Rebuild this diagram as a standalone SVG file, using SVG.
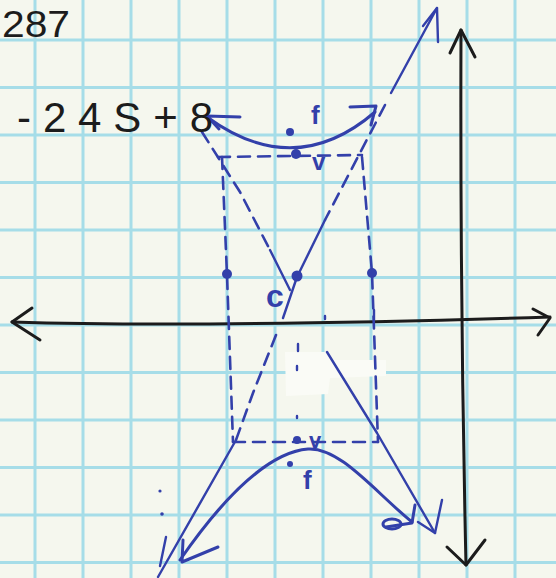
<svg xmlns="http://www.w3.org/2000/svg" width="556" height="578" viewBox="0 0 556 578">
  <style>
    .grid line { stroke: #a6dde8; stroke-width: 3; }
    .ink { fill: none; stroke: #3340aa; stroke-width: 3; stroke-linecap: round; stroke-linejoin: round; }
    .thin { fill: none; stroke: #3340aa; stroke-width: 2.4; stroke-linecap: round; stroke-linejoin: round; }
    .dash { fill: none; stroke: #3340aa; stroke-width: 2.6; stroke-dasharray: 12 8; stroke-linecap: round; }
    .axis { fill: none; stroke: #1c1c1c; stroke-width: 3; stroke-linecap: round; stroke-linejoin: round; }
    .dot { fill: #3340aa; }
    .lbl { font-family: "Liberation Sans", Arial, sans-serif; fill: #3340aa; }
    .hand { font-family: "Liberation Sans", Arial, sans-serif; fill: #1c1c1c; }
  </style>
  <rect x="0" y="0" width="556" height="578" fill="#f5f7ee"/>
  <g id="grid" class="grid">
    <line x1="35" y1="0" x2="35" y2="578"/>
    <line x1="83" y1="0" x2="83" y2="578"/>
    <line x1="131" y1="0" x2="131" y2="578"/>
    <line x1="179" y1="0" x2="179" y2="578"/>
    <line x1="227" y1="0" x2="227" y2="578"/>
    <line x1="275" y1="0" x2="275" y2="578"/>
    <line x1="323" y1="0" x2="323" y2="578"/>
    <line x1="371" y1="0" x2="371" y2="578"/>
    <line x1="419" y1="0" x2="419" y2="578"/>
    <line x1="467" y1="0" x2="467" y2="578"/>
    <line x1="515" y1="0" x2="515" y2="578"/>
    <line x1="0" y1="40" x2="556" y2="40"/>
    <line x1="0" y1="87.5" x2="556" y2="87.5"/>
    <line x1="0" y1="135" x2="556" y2="135"/>
    <line x1="0" y1="182.5" x2="556" y2="182.5"/>
    <line x1="0" y1="230" x2="556" y2="230"/>
    <line x1="0" y1="277.5" x2="556" y2="277.5"/>
    <line x1="0" y1="325" x2="556" y2="325"/>
    <line x1="0" y1="372.5" x2="556" y2="372.5"/>
    <line x1="0" y1="420" x2="556" y2="420"/>
    <line x1="0" y1="467.5" x2="556" y2="467.5"/>
    <line x1="0" y1="515" x2="556" y2="515"/>
    <line x1="0" y1="562.5" x2="556" y2="562.5"/>
  </g>
  <path id="whiteout" d="M285,352 L330,352 L330,360 L386,360 L386,376 L330,378 L328,394 L286,396 Z" fill="#fafbf6"/>
  <g id="axes">
    <path class="axis" d="M12,322 Q200,328 550,317"/>
    <path class="axis" d="M32,308 L12,322 L40,340"/>
    <path class="axis" d="M533,309 L550,318 L538,335"/>
    <path class="axis" d="M461,30 Q460,300 466,565"/>
    <path class="axis" d="M450,53 L461,30 L475,57"/>
    <path class="axis" d="M447,547 L466,565 L485,540"/>
  </g>
  <g id="connectors">
    <path class="thin" d="M437,8 L391,93"/>
    <path class="thin" d="M423,26 L437,8 L438,42"/>
    <path class="dash" d="M385,105 L325,220"/>
    <path class="thin" d="M325,220 L297,277 L283,318"/>
    <path class="dash" d="M276,335 L253,393 L236,440"/>
    <path class="thin" d="M236,440 L158,577"/>
    <path class="thin" d="M166,537 L160,566"/>
    <path class="dash" d="M202,132 L240,192 L270,250"/>
    <path class="thin" d="M270,250 L290,290"/>
    <path class="thin" d="M327,352 L377,433 L435,533"/>
    <path class="thin" d="M442,500 L435,533 L418,522"/>
    <path class="dash" d="M218,157 L362,155"/>
    <path class="dash" d="M222,157 L227,275 L233,442"/>
    <path class="dash" d="M362,157 L372,273 L378,442"/>
    <path class="dash" d="M233,442 L378,442"/>
    <path class="thin" d="M298,344 L298,351 M297,366 L297,370 M297,416 L297,418 M325,316 L325,319 M374,310 L374,320"/>
    <circle class="dot" cx="160" cy="491" r="1.6"/>
    <circle class="dot" cx="162" cy="514" r="1.8"/>
  </g>
  <g id="upper-branch">
    <path class="ink" d="M207,117 Q295,181 375,112"/>
    <path class="ink" d="M240,117 L207,116 L219,129"/>
    <path class="ink" d="M350,107 L376,106 L371,125"/>
  </g>
  <g id="lower-branch">
    <path class="ink" d="M180,560 C225,495 270,452 308,449 C340,447 375,492 412,522"/>
    <path class="ink" d="M218,547 L182,562 L183,540"/>
    <path class="ink" d="M386,527 L412,523 L415,505"/>
    <ellipse class="ink" cx="392" cy="524" rx="9" ry="5"/>
  </g>
  <g id="points">
    <circle class="dot" cx="296" cy="154" r="5"/>
    <circle class="dot" cx="290" cy="132" r="4"/>
    <circle class="dot" cx="297" cy="276" r="5.5"/>
    <circle class="dot" cx="227" cy="274" r="5"/>
    <circle class="dot" cx="372" cy="273" r="5"/>
    <circle class="dot" cx="297" cy="440" r="4"/>
    <circle class="dot" cx="290" cy="464" r="3"/>
  </g>
  <g id="labels">
    <text class="hand" x="2" y="37" font-size="37" textLength="68" lengthAdjust="spacingAndGlyphs">287</text>
    <text class="hand" x="17" y="132" font-size="42" textLength="196" lengthAdjust="spacing">-24S+8</text>
    <text class="lbl" x="311" y="124" font-size="26" font-weight="bold">f</text>
    <text class="lbl" x="312" y="170" font-size="24" font-weight="bold">v</text>
    <text class="lbl" x="266" y="307" font-size="32" font-weight="bold">c</text>
    <text class="lbl" x="309" y="448" font-size="22" font-weight="bold">v</text>
    <text class="lbl" x="303" y="489" font-size="26" font-weight="bold">f</text>
  </g>
</svg>
